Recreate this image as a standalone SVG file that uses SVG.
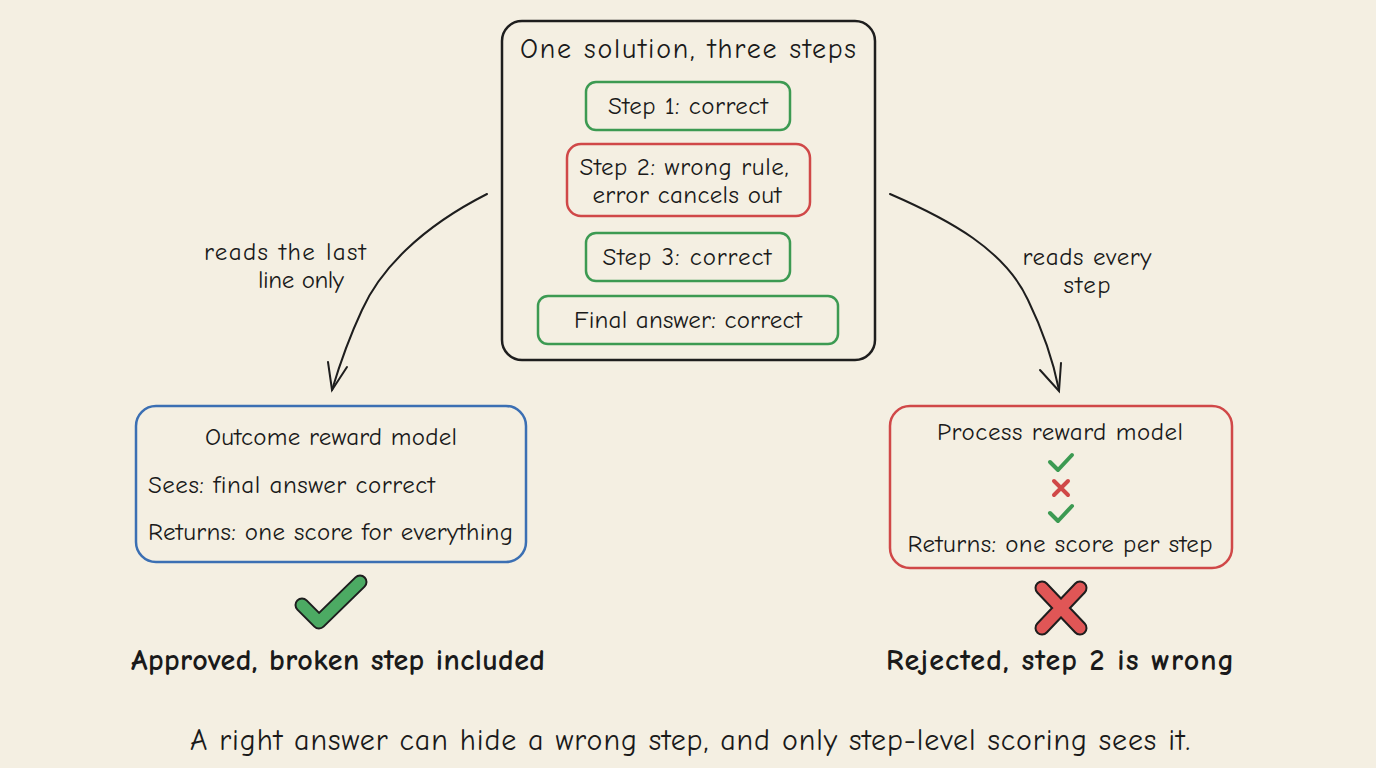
<svg xmlns="http://www.w3.org/2000/svg" width="1376" height="768" viewBox="0 0 1376 768">
<defs>
<style>
text{font-family:"Comic Neue","Lato","Liberation Sans",sans-serif;fill:#1a1a1a}
.t{font-size:25px}
.c{text-anchor:middle}
.b{font-weight:bold;font-size:30px}
.box{fill:none;stroke-width:2.5}
.g{stroke:#3c9a52}
.r{stroke:#d04848}
.bl{stroke:#3b6fb3}
.k{stroke:#1e1e1e}
.conn{fill:none;stroke:#1e1e1e;stroke-width:2;stroke-linecap:round}
</style>
</defs>
<rect width="1376" height="768" fill="#f4efe2"/>

<g id="solution">
<rect class="box k" x="502" y="21" width="373" height="339" rx="20"/>
<text class="c" x="688" y="58" style="font-size:28px" textLength="336" lengthAdjust="spacing">One solution, three steps</text>
</g>
<g id="step1">
<rect class="box g" x="586" y="82" width="204" height="48" rx="10"/>
<text class="t c" x="688" y="114" textLength="160" lengthAdjust="spacing">Step 1: correct</text>
</g>
<g id="step2">
<rect class="box r" x="567" y="144" width="243" height="72" rx="14"/>
<text class="t c" x="684" y="175" textLength="209" lengthAdjust="spacing">Step 2: wrong rule,</text>
<text class="t c" x="687" y="203" textLength="189" lengthAdjust="spacing">error cancels out</text>
</g>
<g id="step3">
<rect class="box g" x="586" y="233" width="204" height="48" rx="10"/>
<text class="t c" x="687" y="265" textLength="169" lengthAdjust="spacing">Step 3: correct</text>
</g>
<g id="final">
<rect class="box g" x="538" y="296" width="300" height="48" rx="10"/>
<text class="t c" x="688" y="328" textLength="228" lengthAdjust="spacing">Final answer: correct</text>
</g>

<g id="connectors">
<path class="conn" d="M487,194 C420,228 380,270 362,310 C348,340 338,370 332,390"/>
<path class="conn" d="M328,362 L332,390 L347,367"/>
<path class="conn" d="M890,194 C950,220 1005,250 1028,300 C1045,335 1055,370 1059,390"/>
<path class="conn" d="M1040,370 L1059,391 L1061,363"/>
<text class="t c" x="285" y="260" textLength="162" lengthAdjust="spacing">reads the last</text>
<text class="t c" x="301" y="288" textLength="86" lengthAdjust="spacing">line only</text>
<text class="t c" x="1087" y="265" textLength="129" lengthAdjust="spacing">reads every</text>
<text class="t c" x="1087" y="293" textLength="47" lengthAdjust="spacing">step</text>
</g>

<g id="outcome">
<rect class="box bl" x="136" y="406" width="390" height="156" rx="20"/>
<text class="t c" x="331" y="445" textLength="252" lengthAdjust="spacing">Outcome reward model</text>
<text class="t" x="148" y="493" textLength="287" lengthAdjust="spacing">Sees: final answer correct</text>
<text class="t" x="148" y="540" textLength="365" lengthAdjust="spacing">Returns: one score for everything</text>
</g>

<g id="process">
<rect class="box r" x="890" y="406" width="342" height="162" rx="20"/>
<text class="t c" x="1060" y="440" textLength="246" lengthAdjust="spacing">Process reward model</text>
<path d="M1050,462 L1058,470 L1072,455" fill="none" stroke="#3c9a52" stroke-width="4" stroke-linecap="round" stroke-linejoin="round"/>
<path d="M1054,481 L1068,495 M1068,481 L1054,495" fill="none" stroke="#d04848" stroke-width="4" stroke-linecap="round"/>
<path d="M1050,513 L1058,521 L1072,506" fill="none" stroke="#3c9a52" stroke-width="4" stroke-linecap="round" stroke-linejoin="round"/>
<text class="t c" x="1060" y="552" textLength="305" lengthAdjust="spacing">Returns: one score per step</text>
</g>

<g id="approved">
<path d="M302,605 L319,622 L360,582" fill="none" stroke="#1e1e1e" stroke-width="15" stroke-linecap="round" stroke-linejoin="round"/>
<path d="M302,605 L319,622 L360,582" fill="none" stroke="#4caa63" stroke-width="11" stroke-linecap="round" stroke-linejoin="round"/>
<text class="b c" x="338" y="670" textLength="414" lengthAdjust="spacing">Approved, broken step included</text>
</g>

<g id="rejected">
<path d="M1042,588 L1080,628 M1080,588 L1042,628" fill="none" stroke="#1e1e1e" stroke-width="15" stroke-linecap="round"/>
<path d="M1042,588 L1080,628 M1080,588 L1042,628" fill="none" stroke="#e05656" stroke-width="11" stroke-linecap="round"/>
<text class="b c" x="1060" y="670" textLength="348" lengthAdjust="spacing">Rejected, step 2 is wrong</text>
</g>

<g id="caption">
<text class="c" x="690" y="750" style="font-size:30px" textLength="1000" lengthAdjust="spacing">A right answer can hide a wrong step, and only step-level scoring sees it.</text>
</g>
</svg>
